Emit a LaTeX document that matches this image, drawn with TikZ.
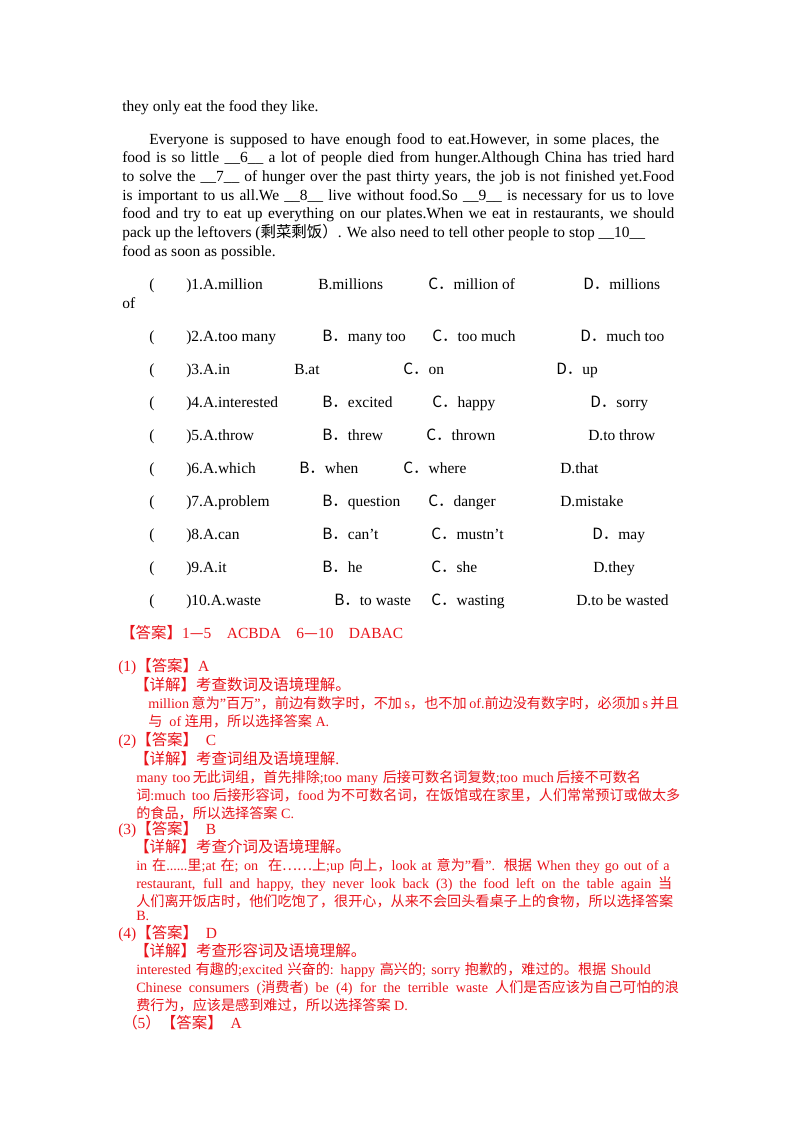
\documentclass[tikz,border=0pt]{standalone}
\usepackage{fontspec}
\setmainfont{Liberation Serif}
\newfontfamily\cjk{Noto Sans CJK SC}
\newcommand\Z[1]{{\cjk #1}}
\newcommand\Q{\symbol{34}}
\newcommand\A{\symbol{39}}
\definecolor{ansred}{RGB}{232,20,27}
\tikzset{t/.style={anchor=base west,inner sep=0pt,font=\fontsize{11.6}{13}\selectfont},
 r/.style={t,text=ansred,font=\fontsize{10.6}{12}\selectfont},
 rh/.style={t,text=ansred,font=\fontsize{11.6}{13}\selectfont}}
\newcommand\J[2]{\makebox[#1pt][s]{#2}}
\begin{document}
\begin{tikzpicture}[x=0.75pt,y=-0.75pt]
\useasboundingbox (0,0) rectangle (800,1132);
\node[t] (l0) at (122,111) {they only eat the food they like.};
\node[t] (l1) at (149,144) {\J{382.5}{Everyone is supposed to have enough food to eat.However, in some places, the}};
\node[t] (l2) at (122,162) {\J{414}{food is so little \_\_6\_\_ a lot of people died from hunger.Although China has tried hard}};
\node[t] (l3) at (122,181) {\J{414}{to solve the \_\_7\_\_ of hunger over the past thirty years, the job is not finished yet.Food}};
\node[t] (l4) at (122,200) {\J{414}{is important to us all.We \_\_8\_\_ live without food.So \_\_9\_\_ is necessary for us to love}};
\node[t] (l5) at (122,218) {\J{414}{food and try to eat up everything on our plates.When we eat in restaurants, we should}};
\node[t] (l6) at (122,237) {pack up the leftovers (\Z{剩菜剩饭}\Z{）}. We also need to tell other people to stop \_\_10\_\_};
\node[t] (l7) at (122,256) {food as soon as possible.};
% questions
\foreach \y/\a/\b/\bx/\c/\cx/\d/\dx [count=\i] in {
 289/1.A.million/B.millions/318/\Z{C．}million of/428/\Z{D．}millions/583,
 341/2.A.too many/\Z{B．}many too/322/\Z{C．}too much/432/\Z{D．}much too/580,
 374/3.A.in/B.at/294/\Z{C．}on/403/\Z{D．}up/556,
 407/4.A.interested/\Z{B．}excited/322/\Z{C．}happy/432/\Z{D．}sorry/590,
 440/5.A.throw/\Z{B．}threw/322/\Z{C．}thrown/426/D.to throw/588,
 473/6.A.which/\Z{B．}when/299/\Z{C．}where/403/D.that/560,
 506/7.A.problem/\Z{B．}question/322/\Z{C．}danger/428/D.mistake/560,
 539/8.A.can/\Z{B．}can\A t/322/\Z{C．}mustn\A t/431/\Z{D．}may/592,
 572/9.A.it/\Z{B．}he/322/\Z{C．}she/431/D.they/593,
 605/10.A.waste/\Z{B．}to waste/334/\Z{C．}wasting/431/D.to be wasted/576}{
 \node[t] (p\i) at (149,\y) {(};
 \node[t] (a\i) at (186,\y) {)\a};
 \node[t] (b\i) at (\bx,\y) {\b};
 \node[t] (c\i) at (\cx,\y) {\c};
 \node[t] (d\i) at (\dx,\y) {\d};
}
\node[t] (of1) at (122,308) {of};
% answers
\node[rh] (ans) at (120,638) {\Z{【答案】}1\Z{—}5\quad ACBDA\quad 6\Z{—}10\quad DABAC};
\node[rh] (q1) at (118,671) {(1)\Z{【答案】}A};
\node[rh] (x1) at (134,690) {\Z{【详解】考查数词及语境理解。}};
\node[r] (x1a) at (148,708) {\J{398}{million \Z{意为}\Q\Z{百万}\Q\Z{，前边有数字时，不加} s\Z{，也不加} of.\Z{前边没有数字时，必须加} s \Z{并且}}};
\node[r] (x1b) at (148,726) {\Z{与}\ \ of \Z{连用，所以选择答案} A.};
\node[rh] (q2) at (118,745) {(2)\Z{【答案】}\ \ C};
\node[rh] (x2) at (134,764) {\Z{【详解】考查词组及语境理解}.};
\node[r] (x2a) at (136,782) {\J{331}{many\ \ too \Z{无此词组，首先排除};too\ \ many\ \ \Z{后接可数名词复数};too\ \ much \Z{后接不可数名}}};
\node[r] (x2b) at (136,800) {\J{408}{\Z{词}:much\ \ too \Z{后接形容词，}food \Z{为不可数名词，在饭馆或在家里，人们常常预订或做太多}}};
\node[r] (x2c) at (136,818) {\Z{的食品，所以选择答案} C.};
\node[rh] (q3) at (118,834) {(3)\Z{【答案】}\ \ B};
\node[rh] (x3) at (134,852) {\Z{【详解】考查介词及语境理解。}};
\node[r] (x3a) at (136,870) {\J{400}{in \Z{在}......\Z{里};at \Z{在}; on \ \Z{在……上};up \Z{向上，}look at \Z{意为}\Q\Z{看}\Q. \Z{根据} When they go out of a}};
\node[r] (x3b) at (136,888) {\J{402}{restaurant, full and happy, they never look back (3) the food left on the table again \Z{当}}};
\node[r] (x3c) at (136,906) {\Z{人们离开饭店时，他们吃饱了，很开心，从来不会回头看桌子上的食物，所以选择答案}};
\node[r] (x3d) at (136,920) {B.};
\node[rh] (q4) at (118,938) {(4)\Z{【答案】}\ \ D};
\node[rh] (x4) at (134,956) {\Z{【详解】考查形容词及语境理解。}};
\node[r] (x4a) at (136,974) {\J{386}{interested \Z{有趣的};excited \Z{兴奋的}: happy \Z{高兴的}; sorry \Z{抱歉的，难过的。根据} Should}};
\node[r] (x4b) at (136,992) {\J{407}{Chinese consumers (\Z{消费者}) be (4) for the terrible waste \Z{人们是否应该为自己可怕的浪}}};
\node[r] (x4c) at (136,1010) {\Z{费行为，应该是感到难过，所以选择答案} D.};
\node[rh] (q5) at (122,1028) {\Z{（}5\Z{）【答案】}\ \ A};
\end{tikzpicture}
\end{document}
